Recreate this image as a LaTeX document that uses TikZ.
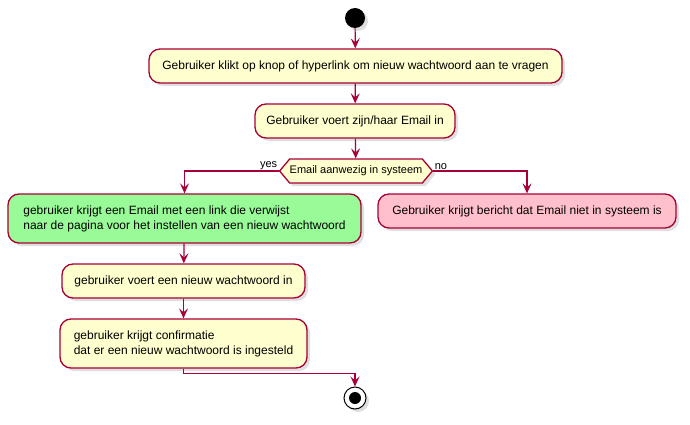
\documentclass[tikz,border=0pt]{standalone}
\usepackage{fontspec}
\setmainfont{Liberation Sans}
\usetikzlibrary{arrows.meta,shapes.symbols,shadows}

\definecolor{umlred}{HTML}{A80036}
\definecolor{umlfill}{HTML}{FEFECE}
\definecolor{umlgreen}{HTML}{98FB98}
\definecolor{umlpink}{HTML}{FFC0CB}

\tikzset{
  umlshadow/.style={drop shadow={opacity=0.25,shadow xshift=3pt,shadow yshift=-3pt}},
  activity/.style={draw=umlred,fill=umlfill,line width=1.3pt,rounded corners=11pt,
    inner sep=0pt,align=left,umlshadow,font=\fontsize{12}{15}\selectfont},
  decision/.style={signal,signal to=west and east,signal pointer angle=100,
    draw=umlred,fill=umlfill,line width=1.3pt,inner sep=0pt,umlshadow,
    font=\fontsize{11}{13}\selectfont},
  flow/.style={draw=umlred,line width=1.2pt,-{Stealth[length=10pt,width=9pt,inset=4pt]}},
  guard/.style={font=\fontsize{11}{13}\selectfont,inner sep=1pt}
}

\begin{document}
\begin{tikzpicture}[x=1pt,y=-1pt]
\useasboundingbox (0,0) rectangle (690,425);

% start and stop
\node[circle,fill=black,minimum size=20pt,inner sep=0pt,umlshadow] (start) at (355,18) {};
\node[circle,draw=black,fill=white,line width=1pt,minimum size=22pt,inner sep=0pt,umlshadow] (stop) at (355,398) {};
\fill (stop) circle (6);

% activities
\node[activity,minimum width=413pt,minimum height=34pt] (ask) at (355.5,66) {Gebruiker klikt op knop of hyperlink om nieuw wachtwoord aan te vragen};
\node[activity,minimum width=200pt,minimum height=34pt] (mail) at (355,121) {Gebruiker voert zijn/haar Email in};
\node[decision,minimum width=152pt,minimum height=24pt] (check) at (356,171) {Email aanwezig in systeem};
\node[activity,fill=umlgreen,minimum width=353pt,minimum height=49pt] (sent) at (184.5,218.5) {gebruiker krijgt een Email met een link die verwijst\\naar de pagina voor het instellen van een nieuw wachtwoord};
\node[activity,fill=umlpink,minimum width=298pt,minimum height=34pt] (notfound) at (527,211) {Gebruiker krijgt bericht dat Email niet in systeem is};
\node[activity,minimum width=243pt,minimum height=34pt] (newpw) at (183.5,281) {gebruiker voert een nieuw wachtwoord in};
\node[activity,minimum width=247pt,minimum height=49pt] (confirm) at (183.5,343.5) {gebruiker krijgt confirmatie\\dat er een nieuw wachtwoord is ingesteld};

% connectors
\draw[flow] (start) -- (ask);
\draw[flow] (ask) -- (mail);
\draw[flow] (mail) -- (check);
\draw[flow] (check.west) node[guard,anchor=south east] {yes} -| (sent.north);
\draw[flow] (check.east) node[guard,anchor=south west] {no} -| (notfound.north);
\draw[flow] (sent) -- (newpw);
\draw[flow] (newpw) -- (confirm);
\draw[flow] (confirm.south) -- ++(0,5) -| (stop.north);
\end{tikzpicture}
\end{document}
